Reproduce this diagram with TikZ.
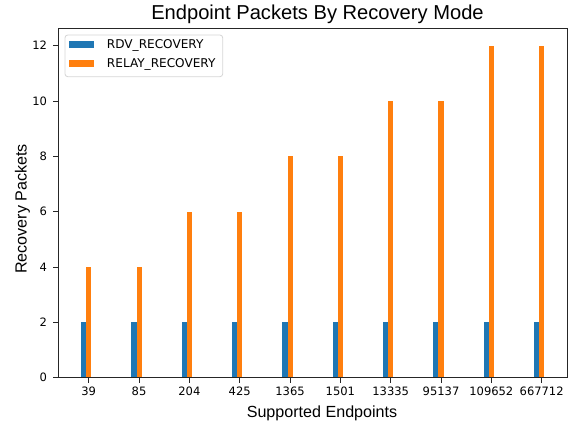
\documentclass[tikz,border=0pt]{standalone}
\usepackage{fontspec}
\setmainfont{Liberation Sans}
\newfontfamily\tickfont{DejaVu Sans}
\definecolor{barblue}{HTML}{1F77B4}
\definecolor{barorange}{HTML}{FF7F0E}
\definecolor{legendedge}{HTML}{D6D6D6}
\begin{document}
\begin{tikzpicture}[x=0.72pt, y=-0.72pt,
  spine/.style={draw=black!85, line width=0.6pt},
  tickmark/.style={draw=black!85, line width=0.6pt},
  ticklabel/.style={font=\tickfont\fontsize{8.3}{10}\selectfont, inner sep=0pt},
  legendtext/.style={font=\tickfont\fontsize{8.7}{10}\selectfont, inner sep=0pt, anchor=base west},
  rdvbar/.style={fill=barblue},
  relaybar/.style={fill=barorange},
  axislabel/.style={font=\fontsize{11.6}{14}\selectfont, inner sep=0pt},
  titletext/.style={font=\fontsize{14.5}{16}\selectfont, inner sep=0pt}]
  \useasboundingbox (0,0) rectangle (574,423);
  % data-to-pixel mapping: x = 88.7 + 50.33 i, y = 377.7 - 27.65 v
  \def\xo{88.7}\def\xs{50.33}\def\yo{377.7}\def\ys{27.65}
  % bars
  \foreach \lab/\hi [count=\i from 0] in {39/4,85/4,204/6,425/6,1365/8,1501/8,13335/10,95137/10,109652/12,667712/12}{
    \pgfmathsetmacro{\xc}{\xo+\xs*\i}
    \fill[rdvbar] ({\xc-0.15*\xs},{\yo-2*\ys}) rectangle ({\xc-0.05*\xs},\yo);
    \fill[relaybar] ({\xc-0.05*\xs},{\yo-\hi*\ys}) rectangle ({\xc+0.05*\xs},\yo);
    \draw[tickmark] (\xc,\yo) -- (\xc,\yo+4.9);
    \node[ticklabel, anchor=base] (xt\i) at (\xc,395.2) {\lab};
  }
  % y ticks
  \foreach \v in {0,2,4,6,8,10,12}{
    \pgfmathsetmacro{\yc}{\yo-\ys*\v}
    \draw[tickmark] (58,\yc) -- (53.1,\yc);
    \node[ticklabel, anchor=base east] (yt\v) at (47.2,\yc+4.1) {\v};
  }
  % axes frame
  \draw[spine] (58,28.5) rectangle (567,\yo);
  % legend
  \draw[legendedge, fill=white, fill opacity=0.8, rounded corners=2pt, line width=0.6pt] (65,35) rectangle (222.7,76.7);
  \fill[rdvbar] (69.3,41) rectangle (94.3,48.3);
  \fill[relaybar] (69.3,60.2) rectangle (94.3,67.5);
  \node[legendtext] (lg1) at (106.7,48.8) {RDV\_RECOVERY};
  \node[legendtext] (lg2) at (106.7,67.8) {RELAY\_RECOVERY};
  % labels
  \node[titletext, anchor=base] (title) at (317.5,20) {Endpoint Packets By Recovery Mode};
  \node[axislabel, anchor=base] (xlab) at (322,417.3) {Supported Endpoints};
  \node[axislabel, anchor=base, rotate=90] (ylab) at (26.7,209) {Recovery Packets};
\end{tikzpicture}
\end{document}
